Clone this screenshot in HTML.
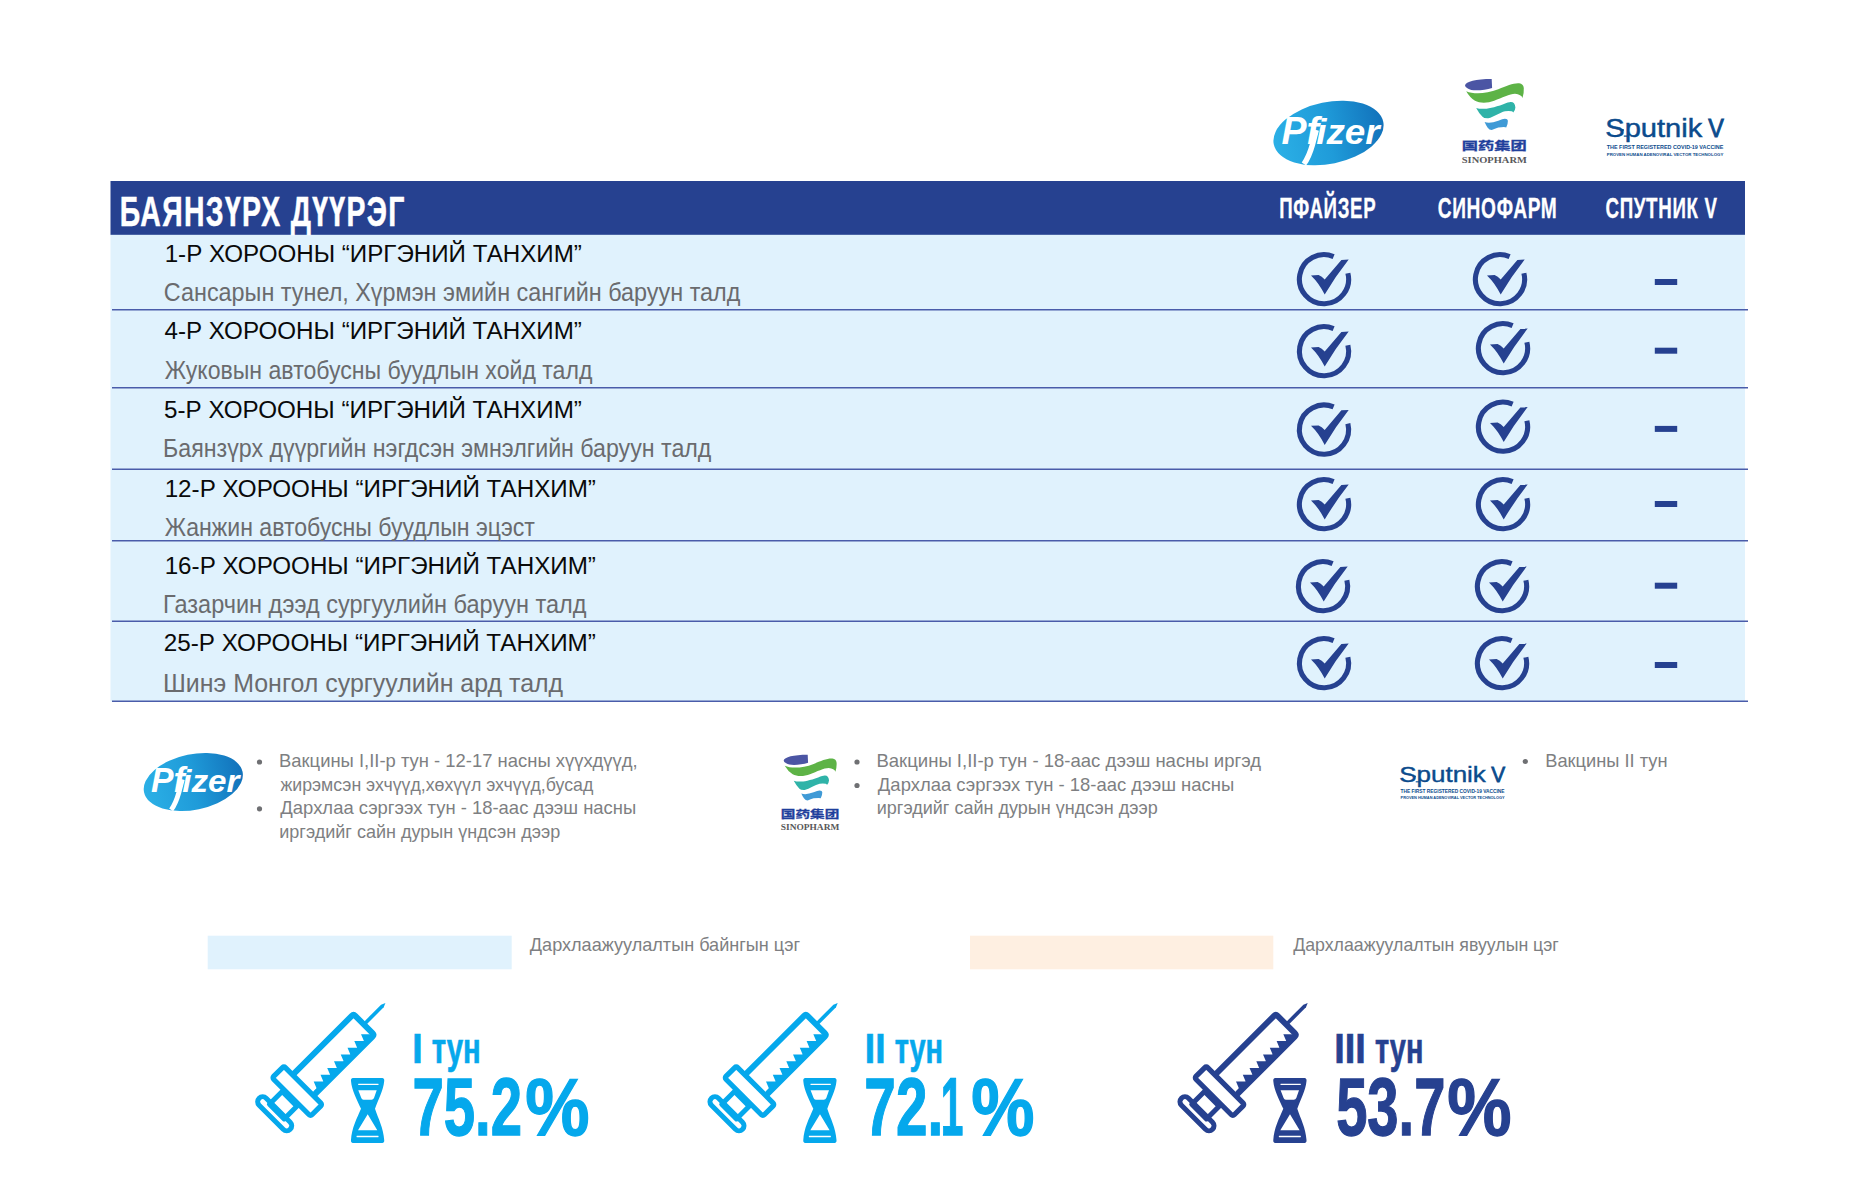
<!DOCTYPE html>
<html lang="mn"><head><meta charset="utf-8"><title>Баянзүрх дүүрэг</title>
<style>html,body{margin:0;padding:0;background:#fff}body{width:1860px;height:1199px;overflow:hidden;font-family:"Liberation Sans",sans-serif}svg{display:block}text{white-space:pre}</style></head><body>
<svg width="1860" height="1199" viewBox="0 0 1860 1199">
<defs><symbol id="chk" width="54" height="55" viewBox="0 0 54 55" overflow="visible"><path d="M50.87,21.25 A24.60,24.60 0 1 1 36.61,4.56" fill="none" stroke="#264190" stroke-width="5.1"/><path d="M14,23.4 L21.6,23 Q24.8,24.2 27.7,27.6 L44.4,7.9 L51.7,7.6 Q38,25 27.7,42.6 Q22,31 14,23.4Z" fill="#264190"/></symbol>
<linearGradient id="pfg" x1="0" y1="0" x2="1" y2="0"><stop offset="0" stop-color="#2bb0e6"/><stop offset="0.5" stop-color="#1f9bd9"/><stop offset="1" stop-color="#1272bb"/></linearGradient>
<g id="pfizer"><ellipse cx="0" cy="0" rx="55.9" ry="30.9" transform="rotate(-11.7)" fill="url(#pfg)"/><path d="M-12.2,-3 L-16,11.5 Q-19.5,24 -24.6,31" fill="none" stroke="#fff" stroke-width="5.4"/><text y="11.3" font-weight="700" font-style="italic" fill="#fff" font-family='"Liberation Sans", sans-serif'><tspan x="-47" font-size="39.7" textLength="37.5" lengthAdjust="spacingAndGlyphs">Pf</tspan><tspan x="-12.3" font-size="35.2" textLength="63.5" lengthAdjust="spacingAndGlyphs">izer</tspan></text></g>
<g id="sino"><path d="M3.2,6.4 C4,2.5 14,0 29.9,0 L30.3,8.9 C22,11.5 10,12.5 6,9.5 Q3.2,8 3.2,6.4Z" fill="#4b55a4"/><path d="M4.4,12.2 C12,15.5 24,15 36.5,10.2 C45,6.8 52,3.8 57.4,4.3 Q61.5,5 62,8.9 Q62.3,14 60.7,18.9 Q59.5,15.5 53.2,14.8 C48,14.8 40,18.8 32.4,21.8 C26,24.3 18,24.5 13.2,21.8 Q8,18.5 4.4,12.2Z" fill="#5db346"/><path d="M14.4,28.9 C20,30.8 28,30 41.5,25.2 Q47,23 49,23.1 Q53,23 53.6,28.5 Q53.5,31 51.5,33.5 Q50.5,31.6 43.2,32.3 C38,33.5 32,38 26.5,39.3 Q22,39.5 20.7,37.7 Q17,34 14.4,28.9Z" fill="#2fb3a8"/><path d="M22.8,43.1 Q28,45 36.5,41.8 Q41,39.7 43.2,39.75 Q46,39.8 46.1,41.8 Q46.2,45 44.4,48.5 Q43.5,47.5 36.5,48.5 Q33,49.5 29.9,51 Q27.5,51 25.7,48.5 Q24,46 22.8,43.1Z" fill="#3f9ad6"/><text x="0" y="70.9" font-size="11.8" font-weight="700" fill="#1f3f9c" stroke="#1f3f9c" stroke-width="0.3" font-family='"Liberation Sans", "Noto Sans CJK SC", sans-serif' textLength="65" lengthAdjust="spacingAndGlyphs">国药集团</text><text x="0" y="84" font-size="9.2" font-weight="700" fill="#58585a" font-family='"Liberation Serif", serif' textLength="65" lengthAdjust="spacingAndGlyphs">SINOPHARM</text></g>
<g id="sput" font-family='"Liberation Sans", sans-serif' fill="#0b4b8c"><text y="18" font-size="25.4" stroke="#0b4b8c" stroke-width="0.45"><tspan x="-1" textLength="97" lengthAdjust="spacingAndGlyphs">Sputnik</tspan> <tspan x="102" textLength="15.6" lengthAdjust="spacingAndGlyphs" stroke-width="0.9">V</tspan></text><circle cx="16.6" cy="11.4" r="1.1"/><path d="M17.5,17.4 H22.5" stroke="#0b4b8c" stroke-width="1.2"/><text x="0.5" y="30.5" font-size="5.5" font-weight="700" textLength="116.5" lengthAdjust="spacingAndGlyphs">THE FIRST REGISTERED COVID-19 VACCINE</text><text x="0.5" y="37" font-size="4" font-weight="700" textLength="116.5" lengthAdjust="spacingAndGlyphs">PROVEN HUMAN ADENOVIRAL VECTOR TECHNOLOGY</text></g>
<g id="syr"><g transform="translate(365.9 1022.5) rotate(-45)" fill="none" stroke="currentColor" stroke-width="5.6" stroke-linejoin="round"><path d="M-1,-1.85 L23.3,-1.85 L27.6,0 L23.3,1.85 L-1,1.85Z" fill="currentColor" stroke="none"/><path d="M-88.5,-14.7 L-5.3,-14.7 Q-2.8,-14.7 -2.8,-12.2 L-2.8,12.2 Q-2.8,14.7 -5.3,14.7 L-88.5,14.7" stroke-width="5.9"/><rect x="-105.4" y="-27.1" width="16.6" height="54.2" rx="2" stroke-width="5.2"/><rect x="-126" y="-10.4" width="18" height="20.8" stroke-width="5"/><rect x="-134" y="-22" width="10" height="44" rx="5" stroke-width="5"/><path d="M-86,11.6 L-81.4,11.6 L-78.7,4.9 L-71.8,11.6 L-69.1,4.9 L-62.2,11.6 L-59.6,4.9 L-52.7,11.6 L-50.0,4.9 L-43.1,11.6 L-40.5,4.9 L-33.6,11.6 L-30.9,4.9 L-24.0,11.6 L-21.3,4.9 L-14.4,11.6 L-11.8,4.9 L-4.9,11.6 L-4,11.6 L-4,15 L-86,15Z" fill="currentColor" stroke="none"/></g><g transform="translate(351 1078)" fill="currentColor" stroke="none"><path fill-rule="evenodd" d="M2,0 L31.2,0 Q33.6,0.3 33.2,3 C32.5,12 27,22 24,30.7 C27,40 32.5,50 33.2,62 Q33.6,64.7 31.2,65 L2,65 Q-0.4,64.7 0,62 C0.7,50 6,40 10,30.7 C6,22 0.7,12 0,3 Q-0.4,0.3 2,0Z M7.4,5.7 L27.3,5.7 Q28,6.3 27.3,7 L7.4,7 Q6.7,6.3 7.4,5.7Z M7.3,12.3 L25.7,12.3 L23,20 Q22.3,21.7 20.5,21.7 L12.5,21.7 Q10.9,21.7 10.3,20Z M16.7,36.3 L26.3,52.3 L7,52.3Z M5.8,57.7 L27.3,57.7 Q28,58.5 27.3,59.3 L5.8,59.3 Q5.1,58.5 5.8,57.7Z"/></g></g></defs>
<g id="table">
<rect x="110.5" y="234" width="1634.5" height="467.5" fill="#e0f2fd"/>
<rect x="110.5" y="181" width="1634.5" height="53.8" fill="#264190"/>
<line x1="112" y1="309.8" x2="1748" y2="309.8" stroke="#4a5caa" stroke-width="1.6"/>
<line x1="112" y1="387.8" x2="1748" y2="387.8" stroke="#4a5caa" stroke-width="1.6"/>
<line x1="112" y1="469.3" x2="1748" y2="469.3" stroke="#4a5caa" stroke-width="1.6"/>
<line x1="112" y1="540.8" x2="1748" y2="540.8" stroke="#4a5caa" stroke-width="1.6"/>
<line x1="112" y1="621.2" x2="1748" y2="621.2" stroke="#4a5caa" stroke-width="1.6"/>
<line x1="112" y1="701.3" x2="1748" y2="701.3" stroke="#4a5caa" stroke-width="1.6"/>
<text x="119.72" y="225.5" font-size="42.59" fill="#fff" font-weight="700" font-style="normal" font-family='"Liberation Sans", sans-serif' textLength="285.96" lengthAdjust="spacingAndGlyphs" stroke="#fff" stroke-width="0.5" letter-spacing="2">БАЯНЗҮРХ ДҮҮРЭГ</text>
<text x="1279.25" y="218.2" font-size="29.36" fill="#fff" font-weight="700" font-style="normal" font-family='"Liberation Sans", sans-serif' textLength="97.02" lengthAdjust="spacingAndGlyphs" stroke="#fff" stroke-width="0.3" letter-spacing="1">ПФАЙЗЕР</text>
<text x="1437.72" y="218.2" font-size="29.36" fill="#fff" font-weight="700" font-style="normal" font-family='"Liberation Sans", sans-serif' textLength="119.70" lengthAdjust="spacingAndGlyphs" stroke="#fff" stroke-width="0.3" letter-spacing="1">СИНОФАРМ</text>
<text x="1605.53" y="218.2" font-size="29.36" fill="#fff" font-weight="700" font-style="normal" font-family='"Liberation Sans", sans-serif' textLength="112.04" lengthAdjust="spacingAndGlyphs" stroke="#fff" stroke-width="0.3" letter-spacing="1">СПУТНИК V</text>
<text x="164.67" y="262.2" font-size="24.71" fill="#0a0a0a" font-weight="400" font-style="normal" font-family='"Liberation Sans", sans-serif' textLength="417.21" lengthAdjust="spacingAndGlyphs">1-Р ХОРООНЫ “ИРГЭНИЙ ТАНХИМ”</text>
<text x="163.82" y="301.2" font-size="25.58" fill="#6a6b6e" font-weight="400" font-style="normal" font-family='"Liberation Sans", sans-serif' textLength="576.58" lengthAdjust="spacingAndGlyphs">Сансарын тунел, Хүрмэн эмийн сангийн баруун талд</text>
<text x="164.45" y="339.4" font-size="24.71" fill="#0a0a0a" font-weight="400" font-style="normal" font-family='"Liberation Sans", sans-serif' textLength="417.43" lengthAdjust="spacingAndGlyphs">4-Р ХОРООНЫ “ИРГЭНИЙ ТАНХИМ”</text>
<text x="164.69" y="378.8" font-size="25.58" fill="#6a6b6e" font-weight="400" font-style="normal" font-family='"Liberation Sans", sans-serif' textLength="427.70" lengthAdjust="spacingAndGlyphs">Жуковын автобусны буудлын хойд талд</text>
<text x="164.04" y="417.6" font-size="24.71" fill="#0a0a0a" font-weight="400" font-style="normal" font-family='"Liberation Sans", sans-serif' textLength="417.85" lengthAdjust="spacingAndGlyphs">5-Р ХОРООНЫ “ИРГЭНИЙ ТАНХИМ”</text>
<text x="163.11" y="457.0" font-size="25.58" fill="#6a6b6e" font-weight="400" font-style="normal" font-family='"Liberation Sans", sans-serif' textLength="548.29" lengthAdjust="spacingAndGlyphs">Баянзүрх дүүргийн нэгдсэн эмнэлгийн баруун талд</text>
<text x="164.67" y="496.6" font-size="24.71" fill="#0a0a0a" font-weight="400" font-style="normal" font-family='"Liberation Sans", sans-serif' textLength="431.22" lengthAdjust="spacingAndGlyphs">12-Р ХОРООНЫ “ИРГЭНИЙ ТАНХИМ”</text>
<text x="164.69" y="536.0" font-size="25.58" fill="#6a6b6e" font-weight="400" font-style="normal" font-family='"Liberation Sans", sans-serif' textLength="370.21" lengthAdjust="spacingAndGlyphs">Жанжин автобусны буудлын эцэст</text>
<text x="164.67" y="573.7" font-size="24.71" fill="#0a0a0a" font-weight="400" font-style="normal" font-family='"Liberation Sans", sans-serif' textLength="431.22" lengthAdjust="spacingAndGlyphs">16-Р ХОРООНЫ “ИРГЭНИЙ ТАНХИМ”</text>
<text x="163.09" y="613.3" font-size="25.58" fill="#6a6b6e" font-weight="400" font-style="normal" font-family='"Liberation Sans", sans-serif' textLength="423.31" lengthAdjust="spacingAndGlyphs">Газарчин дээд сургуулийн баруун талд</text>
<text x="163.79" y="651.0" font-size="24.71" fill="#0a0a0a" font-weight="400" font-style="normal" font-family='"Liberation Sans", sans-serif' textLength="432.10" lengthAdjust="spacingAndGlyphs">25-Р ХОРООНЫ “ИРГЭНИЙ ТАНХИМ”</text>
<text x="162.97" y="691.7" font-size="25.58" fill="#6a6b6e" font-weight="400" font-style="normal" font-family='"Liberation Sans", sans-serif' textLength="400.16" lengthAdjust="spacingAndGlyphs">Шинэ Монгол сургуулийн ард талд</text>
</g>
<g id="marks">
<use href="#chk" x="1297.0" y="252.0"/>
<use href="#chk" x="1473.0" y="252.0"/>
<rect x="1654.8" y="279.0" width="22.4" height="6" fill="#264190"/>
<use href="#chk" x="1297.0" y="324.0"/>
<use href="#chk" x="1476.0" y="321.0"/>
<rect x="1654.8" y="347.7" width="22.4" height="6" fill="#264190"/>
<use href="#chk" x="1297.0" y="402.4"/>
<use href="#chk" x="1476.0" y="399.5"/>
<rect x="1654.8" y="425.9" width="22.4" height="6" fill="#264190"/>
<use href="#chk" x="1297.0" y="477.0"/>
<use href="#chk" x="1476.0" y="477.0"/>
<rect x="1654.8" y="501.0" width="22.4" height="6" fill="#264190"/>
<use href="#chk" x="1296.0" y="559.0"/>
<use href="#chk" x="1475.0" y="559.0"/>
<rect x="1654.8" y="582.7" width="22.4" height="6" fill="#264190"/>
<use href="#chk" x="1297.0" y="636.0"/>
<use href="#chk" x="1475.0" y="636.0"/>
<rect x="1654.8" y="662.0" width="22.4" height="6" fill="#264190"/>
</g>
<use href="#pfizer" transform="translate(1328.5 133)"/>
<use href="#pfizer" transform="translate(193.3 782) scale(0.9)"/>
<use href="#sino" transform="translate(1461.8 79)"/>
<use href="#sino" transform="translate(780.8 754.7) scale(0.9)"/>
<use href="#sput" transform="translate(1606.3 118.7)"/>
<use href="#sput" transform="translate(1400.1 766.5) scale(0.893 0.88)"/>
<g id="legend">
<circle cx="259.5" cy="762.0" r="2.6" fill="#6f7073"/>
<circle cx="259.5" cy="808.8" r="2.6" fill="#6f7073"/>
<text x="278.99" y="767.0" font-size="18.31" fill="#7e7f82" font-weight="400" font-style="normal" font-family='"Liberation Sans", sans-serif' textLength="358.67" lengthAdjust="spacingAndGlyphs">Вакцины I,II-р тун - 12-17 насны хүүхдүүд,</text>
<text x="280.44" y="790.8" font-size="18.31" fill="#7e7f82" font-weight="400" font-style="normal" font-family='"Liberation Sans", sans-serif' textLength="312.86" lengthAdjust="spacingAndGlyphs">жирэмсэн эхчүүд,хөхүүл эхчүүд,бусад</text>
<text x="280.36" y="814.0" font-size="18.31" fill="#7e7f82" font-weight="400" font-style="normal" font-family='"Liberation Sans", sans-serif' textLength="355.91" lengthAdjust="spacingAndGlyphs">Дархлаа сэргээх тун - 18-аас дээш насны</text>
<text x="279.25" y="837.5" font-size="18.31" fill="#7e7f82" font-weight="400" font-style="normal" font-family='"Liberation Sans", sans-serif' textLength="281.01" lengthAdjust="spacingAndGlyphs">иргэдийг сайн дурын үндсэн дээр</text>
<circle cx="857.0" cy="762.0" r="2.6" fill="#6f7073"/>
<circle cx="857.0" cy="785.5" r="2.6" fill="#6f7073"/>
<text x="876.48" y="767.0" font-size="18.31" fill="#7e7f82" font-weight="400" font-style="normal" font-family='"Liberation Sans", sans-serif' textLength="384.64" lengthAdjust="spacingAndGlyphs">Вакцины I,II-р тун - 18-аас дээш насны иргэд</text>
<text x="877.86" y="790.8" font-size="18.31" fill="#7e7f82" font-weight="400" font-style="normal" font-family='"Liberation Sans", sans-serif' textLength="356.42" lengthAdjust="spacingAndGlyphs">Дархлаа сэргээх тун - 18-аас дээш насны</text>
<text x="876.75" y="814.2" font-size="18.31" fill="#7e7f82" font-weight="400" font-style="normal" font-family='"Liberation Sans", sans-serif' textLength="281.01" lengthAdjust="spacingAndGlyphs">иргэдийг сайн дурын үндсэн дээр</text>
<circle cx="1525.3" cy="761.5" r="2.6" fill="#6f7073"/>
<text x="1545.20" y="766.8" font-size="18.31" fill="#7e7f82" font-weight="400" font-style="normal" font-family='"Liberation Sans", sans-serif' textLength="122.37" lengthAdjust="spacingAndGlyphs">Вакцины II тун</text>
</g>
<g id="key">
<rect x="207.7" y="935.7" width="304" height="33.6" fill="#e0f2fd"/>
<rect x="970" y="935.7" width="303.3" height="33.6" fill="#feefe1"/>
<text x="529.87" y="950.7" font-size="18.31" fill="#7e7f82" font-weight="400" font-style="normal" font-family='"Liberation Sans", sans-serif' textLength="270.16" lengthAdjust="spacingAndGlyphs">Дархлаажуулалтын байнгын цэг</text>
<text x="1293.17" y="950.7" font-size="18.31" fill="#7e7f82" font-weight="400" font-style="normal" font-family='"Liberation Sans", sans-serif' textLength="265.65" lengthAdjust="spacingAndGlyphs">Дархлаажуулалтын явуулын цэг</text>
</g>
<g id="stats">
<use href="#syr" x="0.0" y="0" color="#05a8ec"/>
<text y="1062.7" font-size="43.02" fill="#05a8ec" font-weight="700" font-style="normal" font-family='"Liberation Sans", sans-serif' stroke="#05a8ec" stroke-width="0.7"><tspan x="412.29" textLength="10.42" lengthAdjust="spacingAndGlyphs">I</tspan> <tspan x="431.76" textLength="49.02" lengthAdjust="spacingAndGlyphs">тун</tspan></text>
<text y="1135.0" font-size="81.40" fill="#05a8ec" font-weight="700" font-style="normal" font-family='"Liberation Sans", sans-serif' stroke="#05a8ec" stroke-width="1.3"><tspan x="412.38" textLength="109.68" lengthAdjust="spacingAndGlyphs">75.2</tspan><tspan x="525.20" textLength="64.31" lengthAdjust="spacingAndGlyphs">%</tspan></text>
<use href="#syr" x="452.3" y="0" color="#05a8ec"/>
<text y="1062.7" font-size="43.02" fill="#05a8ec" font-weight="700" font-style="normal" font-family='"Liberation Sans", sans-serif' stroke="#05a8ec" stroke-width="0.7"><tspan x="864.81" textLength="20.68" lengthAdjust="spacingAndGlyphs">II</tspan> <tspan x="894.67" textLength="48.38" lengthAdjust="spacingAndGlyphs">тун</tspan></text>
<text y="1135.0" font-size="81.40" fill="#05a8ec" font-weight="700" font-style="normal" font-family='"Liberation Sans", sans-serif' stroke="#05a8ec" stroke-width="1.3"><tspan x="864.36" textLength="78.84" lengthAdjust="spacingAndGlyphs">72.</tspan><tspan x="940.84" textLength="22.59" lengthAdjust="spacingAndGlyphs">1</tspan><tspan x="971.23" textLength="63.25" lengthAdjust="spacingAndGlyphs">%</tspan></text>
<use href="#syr" x="922.3" y="0" color="#264190"/>
<text y="1062.7" font-size="43.02" fill="#264190" font-weight="700" font-style="normal" font-family='"Liberation Sans", sans-serif' stroke="#264190" stroke-width="0.7"><tspan x="1334.27" textLength="31.57" lengthAdjust="spacingAndGlyphs">III</tspan> <tspan x="1374.97" textLength="48.38" lengthAdjust="spacingAndGlyphs">тун</tspan></text>
<text y="1135.0" font-size="81.40" fill="#264190" font-weight="700" font-style="normal" font-family='"Liberation Sans", sans-serif' stroke="#264190" stroke-width="1.3"><tspan x="1336.17" textLength="109.19" lengthAdjust="spacingAndGlyphs">53.7</tspan><tspan x="1447.20" textLength="64.31" lengthAdjust="spacingAndGlyphs">%</tspan></text>
</g>
</svg></body></html>
